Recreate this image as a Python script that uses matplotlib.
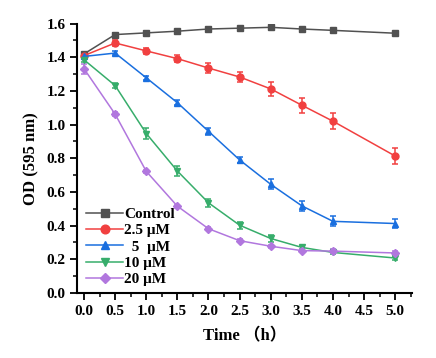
import matplotlib
matplotlib.use("Agg")
from matplotlib import pyplot as plt
from matplotlib.ticker import MultipleLocator

# time points (h) - no measurement at 4.5 h
time = [0.0, 0.5, 1.0, 1.5, 2.0, 2.5, 3.0, 3.5, 4.0, 5.0]

control = [1.42, 1.535, 1.545, 1.555, 1.568, 1.573, 1.578, 1.568, 1.560, 1.543]
control_err = [0.01, 0.008, 0.008, 0.008, 0.008, 0.008, 0.008, 0.008, 0.008, 0.008]
um25 = [1.41, 1.485, 1.438, 1.392, 1.336, 1.283, 1.212, 1.115, 1.020, 0.813]
um25_err = [0.015, 0.02, 0.018, 0.02, 0.028, 0.032, 0.04, 0.045, 0.048, 0.05]
um5 = [1.405, 1.425, 1.278, 1.130, 0.960, 0.790, 0.645, 0.517, 0.425, 0.412]
um5_err = [0.015, 0.01, 0.012, 0.015, 0.02, 0.02, 0.03, 0.03, 0.03, 0.025]
um10 = [1.385, 1.232, 0.947, 0.724, 0.535, 0.402, 0.323, 0.270, 0.240, 0.207]
um10_err = [0.015, 0.015, 0.03, 0.03, 0.025, 0.02, 0.02, 0.01, 0.01, 0.01]
um20 = [1.332, 1.062, 0.722, 0.515, 0.381, 0.310, 0.277, 0.251, 0.248, 0.237]
um20_err = [0.03, 0.01, 0.01, 0.01, 0.01, 0.01, 0.01, 0.01, 0.01, 0.01]

labels = ["Control", "2.5 \u03bcM", "  5  \u03bcM", "10 \u03bcM", "20 \u03bcM"]
colors = ["#515151", "#F14040", "#1A6FDF", "#37AD6B", "#B177DE"]
markers = ["s", "o", "^", "v", "D"]

plt.rcParams['font.family'] = ['Liberation Serif', 'Noto Sans CJK SC']
plt.rcParams['font.weight'] = 'bold'

fig = plt.figure(figsize=(4.36, 3.58), dpi=100)
ax = fig.add_axes([0.177, 0.182, 0.768, 0.752])

series = [(control, control_err), (um25, um25_err), (um5, um5_err),
          (um10, um10_err), (um20, um20_err)]
for (vals, errs), lab, c, m in zip(series, labels, colors, markers):
    ms = 4.2 if m == "D" else 5
    ax.errorbar(time, vals, yerr=errs, color=c, marker=m, markersize=ms,
                linewidth=1.1, elinewidth=1.1, capsize=2.5, capthick=1.1,
                label=lab)

ax.set_xlim(-0.11, 5.27)
ax.set_ylim(0, 1.6)
ax.xaxis.set_major_locator(MultipleLocator(0.5))
ax.xaxis.set_minor_locator(MultipleLocator(0.25))
ax.yaxis.set_major_locator(MultipleLocator(0.2))
ax.yaxis.set_minor_locator(MultipleLocator(0.1))

ax.spines['top'].set_visible(False)
ax.spines['right'].set_visible(False)
ax.spines['left'].set_linewidth(1.5)
ax.spines['bottom'].set_linewidth(1.5)
ax.tick_params(which='major', direction='out', length=5, width=1.3, labelsize=11)
ax.tick_params(which='minor', direction='out', length=3, width=1.1)
for t in ax.get_xticklabels() + ax.get_yticklabels():
    t.set_fontweight('bold')

ax.set_xlabel("Time \uff08h\uff09", fontsize=12, fontweight='bold', labelpad=8)
ax.set_ylabel("OD (595 nm)", fontsize=12, fontweight='bold', labelpad=5)

handles, labs = ax.get_legend_handles_labels()
handles = [h[0] for h in handles]
leg = ax.legend(handles, labs, loc='upper left', bbox_to_anchor=(-0.005, 0.357),
                frameon=False, fontsize=11, handlelength=2.4,
                handletextpad=0.1, labelspacing=0.17, borderaxespad=0.3,
                markerscale=1.25)
for t in leg.get_texts():
    t.set_fontweight('bold')

fig.savefig("out.png", dpi=100)
